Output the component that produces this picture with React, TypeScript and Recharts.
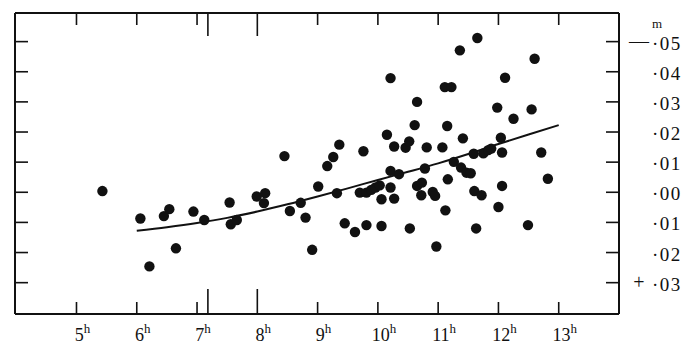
import React from 'react';
import { ComposedChart, Scatter, Line, XAxis, YAxis } from 'recharts';

// Observations: hour of day, offset (m); top of the plot is "— ·05", bottom "+ ·03"
const obsHours = [
  5.43, 6.06, 6.21, 6.45, 6.54, 6.65, 6.94, 7.12, 7.54, 7.56,
  7.66, 7.99, 8.13, 8.11, 8.45, 8.54, 8.72, 8.80, 8.91, 9.01,
  9.16, 9.26, 9.36, 9.32, 9.45, 9.62, 9.76, 9.70, 9.81, 9.81,
  9.89, 9.96, 10.03, 10.06, 10.06, 10.15, 10.21, 10.21, 10.21, 10.27,
  10.27, 10.35, 10.46, 10.52, 10.53, 10.61, 10.65, 10.65, 10.73, 10.72,
  10.78, 10.81, 10.91, 10.95, 10.97, 11.07, 11.11, 11.22, 11.15, 11.16,
  11.12, 11.26, 11.36, 11.41, 11.38, 11.47, 11.54, 11.59, 11.60, 11.65,
  11.63, 11.72, 11.75, 11.83, 11.88, 12.00, 11.98, 12.04, 12.06, 12.06,
  12.11, 12.25, 12.49, 12.55, 12.60, 12.71, 12.82,
];
const obsOffsets = [
  -0.0004, 0.0087, 0.0246, 0.0079, 0.0056, 0.0186, 0.0064, 0.0092, 0.0034, 0.0106,
  0.0092, 0.0014, 0.0003, 0.0036, -0.0120, 0.0062, 0.0035, 0.0084, 0.0191, -0.0019,
  -0.0087, -0.0117, -0.0158, 0.0003, 0.0103, 0.0132, -0.0136, 0.0001, 0.0001, 0.0109,
  -0.0008, -0.0016, -0.0023, 0.0023, 0.0112, -0.0191, -0.0379, -0.0071, -0.0016, -0.0152,
  0.0021, -0.0060, -0.0148, -0.0169, 0.0120, -0.0223, -0.0300, -0.0021, -0.0032, 0.0010,
  -0.0079, -0.0149, -0.0001, 0.0012, 0.0180, -0.0149, -0.0349, -0.0349, -0.0220, -0.0043,
  0.0060, -0.0101, -0.0471, -0.0179, -0.0082, -0.0065, -0.0063, -0.0128, -0.0004, -0.0512,
  0.0120, 0.0010, -0.0129, -0.0140, -0.0145, 0.0049, -0.0281, -0.0181, -0.0132, -0.0021,
  -0.0380, -0.0244, 0.0109, -0.0275, -0.0443, -0.0132, -0.0045,
];

// Smooth mean curve
const curveHours = [6, 6.5, 7, 7.5, 8, 8.5, 9, 9.5, 10, 10.5, 11, 11.5, 12, 12.5, 13];
const curveOffsets = [
  0.0128, 0.0116, 0.0102, 0.0085, 0.0064, 0.0040, 0.0014, -0.0013,
  -0.0041, -0.0068, -0.0096, -0.0127, -0.0160, -0.0192, -0.0223,
];

// Axis ticks
const hourTicks = [5, 6, 7, 7.18, 8, 9, 10, 11, 12, 13];
const hourLabels = ['5', '6', '7', '', '8', '9', '10', '11', '12', '13'];
const longHourMarks = [7.18, 8];
const offsetTicks = [-0.05, -0.04, -0.03, -0.02, -0.01, 0, 0.01, 0.02, 0.03];
const offsetLabels = ['·05', '·04', '·03', '·02', '·01', '·00', '·01', '·02', '·03'];
const offsetSigns = ['—', '', '', '', '', '', '', '', '+'];
const unitLabel = 'm';

const observations = obsHours.map((h, i) => ({ h, v: obsOffsets[i] }));
const curve = curveHours.map((h, i) => ({ h, v: curveOffsets[i] }));

const INK = '#111';
const FONT = '"Liberation Serif", "DejaVu Serif", serif';
const X_DOMAIN: [number, number] = [3.98, 14];
const Y_DOMAIN: [number, number] = [-0.0595, 0.0404];

const BottomTick = (props: any) => {
  const { x, y, payload, index } = props;
  const len = longHourMarks.includes(payload.value) ? 25 : 12;
  const label = hourLabels[index];
  return (
    <g>
      <line x1={x} x2={x} y1={y} y2={y - len} stroke={INK} strokeWidth={1.6} />
      {label ? (
        <text x={x + 6} y={y + 27} textAnchor="middle" fontFamily={FONT} fontSize={18} fill={INK}>
          <tspan>{label}</tspan>
          <tspan dy={-8} fontSize={13}>h</tspan>
        </text>
      ) : null}
    </g>
  );
};

const TopTick = (props: any) => {
  const { x, y, payload } = props;
  const len = longHourMarks.includes(payload.value) ? 23 : 12;
  return <line x1={x} x2={x} y1={y} y2={y + len} stroke={INK} strokeWidth={1.6} />;
};

const LeftTick = (props: any) => {
  const { x, y } = props;
  return <line x1={x} x2={x + 13} y1={y} y2={y} stroke={INK} strokeWidth={1.6} />;
};

const RightTick = (props: any) => {
  const { x, y, index } = props;
  const sign = offsetSigns[index];
  return (
    <g>
      <line x1={x} x2={x - 13} y1={y} y2={y} stroke={INK} strokeWidth={1.6} />
      {index === 0 ? (
        <text x={x + 33} y={y - 14} fontFamily={FONT} fontSize={13} fill={INK}>{unitLabel}</text>
      ) : null}
      {sign ? (
        <text x={x + 20} y={y + 6} textAnchor="middle" fontFamily={FONT} fontSize={20} fill={INK}>{sign}</text>
      ) : null}
      <text x={x + 33} y={y + 8} fontFamily={FONT} fontSize={19} letterSpacing={1.5} fill={INK}>
        {offsetLabels[index]}
      </text>
    </g>
  );
};

const Dot = (props: any) => {
  const { cx, cy } = props;
  return <circle cx={cx} cy={cy} r={5.2} fill={INK} />;
};

export default function App() {
  return (
    <div style={{ width: 684, height: 338, background: '#fff' }}>
      <ComposedChart
        width={684}
        height={338}
        margin={{ top: 4, right: 0, bottom: 0, left: 6 }}
      >
        <XAxis
          xAxisId="b"
          dataKey="h"
          type="number"
          orientation="bottom"
          domain={X_DOMAIN}
          allowDataOverflow
          ticks={hourTicks}
          interval={0}
          tickSize={0}
          tickMargin={0}
          tickLine={false}
          tick={BottomTick}
          axisLine={{ stroke: INK, strokeWidth: 2 }}
          height={32}
        />
        <XAxis
          xAxisId="t"
          dataKey="h"
          type="number"
          orientation="top"
          domain={X_DOMAIN}
          allowDataOverflow
          ticks={hourTicks}
          interval={0}
          tickSize={0}
          tickMargin={0}
          tickLine={false}
          tick={TopTick}
          axisLine={{ stroke: INK, strokeWidth: 2 }}
          height={1}
        />
        <YAxis
          yAxisId="l"
          dataKey="v"
          type="number"
          orientation="left"
          reversed
          domain={Y_DOMAIN}
          allowDataOverflow
          ticks={offsetTicks}
          interval={0}
          tickSize={0}
          tickMargin={0}
          tickLine={false}
          tick={LeftTick}
          axisLine={{ stroke: INK, strokeWidth: 2 }}
          width={1}
        />
        <YAxis
          yAxisId="r"
          dataKey="v"
          type="number"
          orientation="right"
          reversed
          domain={Y_DOMAIN}
          allowDataOverflow
          ticks={offsetTicks}
          interval={0}
          tickSize={0}
          tickMargin={0}
          tickLine={false}
          tick={RightTick}
          axisLine={{ stroke: INK, strokeWidth: 2 }}
          width={73}
        />
        <Line
          xAxisId="b"
          yAxisId="l"
          data={curve}
          dataKey="v"
          type="monotone"
          stroke={INK}
          strokeWidth={2}
          dot={false}
          activeDot={false}
          isAnimationActive={false}
        />
        <Scatter
          xAxisId="b"
          yAxisId="l"
          data={observations}
          dataKey="v"
          fill={INK}
          shape={Dot}
          isAnimationActive={false}
        />
      </ComposedChart>
    </div>
  );
}
